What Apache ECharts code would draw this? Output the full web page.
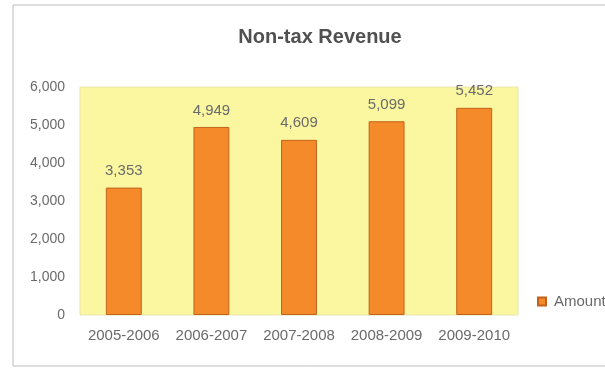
<!DOCTYPE html>
<html>
<head>
<meta charset="utf-8">
<script src="https://cdn.jsdelivr.net/npm/echarts@6/dist/echarts.min.js"></script>
<style>
  html, body { margin: 0; padding: 0; background: #fff; }
  #chart { width: 605px; height: 368px; }
</style>
</head>
<body>
<div id="chart"></div>
<script>
// Non-tax revenue by fiscal year
const years = ['2005-2006', '2006-2007', '2007-2008', '2008-2009', '2009-2010'];
const amounts = [3353, 4949, 4609, 5099, 5452];
const yTicks = [0, 1000, 2000, 3000, 4000, 5000, 6000];

const chart = echarts.init(document.getElementById('chart'), null, { renderer: 'canvas' });
const textColor = '#6a6a6a';
const font = 'Liberation Sans, Arial, sans-serif';

chart.setOption({
  animation: false,
  backgroundColor: '#ffffff',
  title: {
    text: 'Non-tax Revenue',
    left: 315,
    top: 22,
    textAlign: 'center',
    textStyle: { fontFamily: font, fontSize: 20, fontWeight: 'bold', color: '#505050' }
  },
  graphic: [{
    type: 'rect',
    shape: { x: 13, y: 5, width: 600, height: 361 },
    style: { fill: 'none', stroke: '#bdbdbd', lineWidth: 1 },
    z: -1
  }],
  legend: {
    data: [{ name: 'Amount', icon: 'rect' }],
    left: 532,
    top: 289,
    itemWidth: 8,
    itemHeight: 8,
    itemGap: 4,
    textStyle: { fontFamily: font, fontSize: 15, color: textColor, padding: [0, 0, 0, 3] }
  },
  grid: {
    left: 80, right: 87, top: 87, bottom: 53,
    show: true,
    backgroundColor: '#fbf7a0',
    borderWidth: 1,
    borderColor: '#e8e6b0'
  },
  xAxis: {
    type: 'category',
    data: years,
    axisLine: { show: false },
    axisTick: { show: false },
    axisLabel: { interval: 0, fontFamily: font, fontSize: 15, color: textColor, margin: 13 }
  },
  yAxis: {
    type: 'value',
    min: yTicks[0],
    max: yTicks[yTicks.length - 1],
    interval: 1000,
    splitLine: { show: false },
    axisLine: { show: false },
    axisTick: { show: false },
    axisLabel: {
      fontFamily: font, fontSize: 14, color: textColor, margin: 15,
      formatter: v => v.toLocaleString('en-US')
    }
  },
  series: [{
    name: 'Amount',
    type: 'bar',
    data: amounts,
    barWidth: '41%',
    itemStyle: { color: '#f48a2a', borderColor: '#c0621c', borderWidth: 1 },
    label: {
      show: true,
      position: 'top',
      distance: 9,
      fontFamily: font,
      fontSize: 15,
      color: textColor,
      formatter: p => p.value.toLocaleString('en-US')
    }
  }]
});
</script>
</body>
</html>
